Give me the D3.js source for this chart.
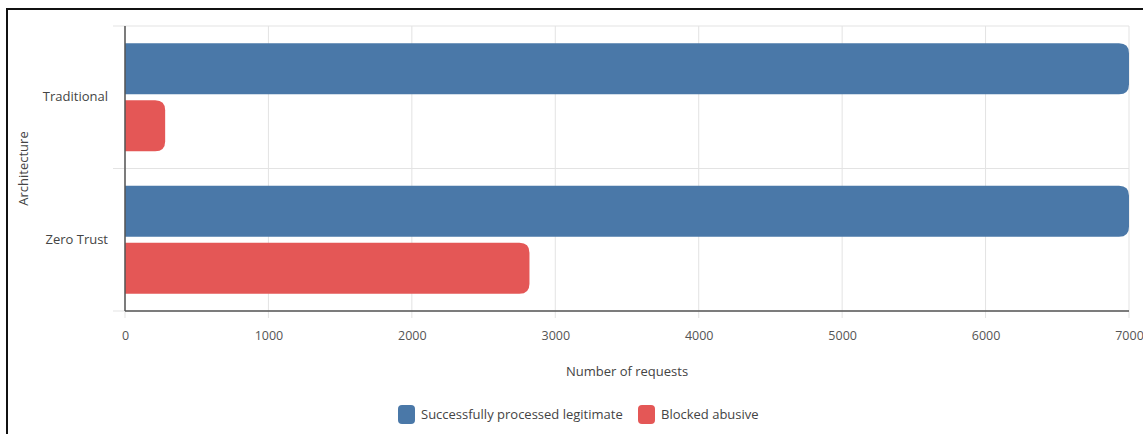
<!DOCTYPE html>
<html><head><meta charset="utf-8">
<script src="https://cdn.jsdelivr.net/npm/d3@7"></script>
<style>
html,body{margin:0;padding:0;background:#fff;}
svg{display:block;font-family:"Open Sans","Noto Sans",sans-serif;}
</style></head>
<body>
<svg id="chart" width="1143" height="434"></svg>
<script>
const categories = ["Traditional", "Zero Trust"];
const seriesNames = ["Successfully processed legitimate", "Blocked abusive"];
const legitimate = [7000, 7000];
const blocked = [280, 2820];
const xTicks = [0, 1000, 2000, 3000, 4000, 5000, 6000, 7000];
const colors = ["#4a78a8", "#e45756"];
const xTitle = "Number of requests";
const yTitle = "Architecture";

(function () {
const svg = d3.select("#chart");
// outer frame
svg.append("rect").attr("x", 7).attr("y", 9).attr("width", 1150).attr("height", 440)
  .attr("fill", "none").attr("stroke", "#111").attr("stroke-width", 2);

const pL = 125, pR = 1129, pT = 26, pB = 311;
const x = d3.scaleLinear().domain([0, 7000]).range([pL, pR]);
const y0 = d3.scaleBand().domain(categories).range([pT, pB]).paddingInner(0).paddingOuter(0);
const y1 = d3.scaleBand().domain([0, 1]).range([0, y0.bandwidth()]).paddingInner(0.105).paddingOuter(0.3);

// grid lines
const g = svg.append("g");
g.selectAll(".vg").data(xTicks).join("line")
  .attr("x1", d => x(d)).attr("x2", d => x(d)).attr("y1", pT).attr("y2", pB + 7)
  .attr("stroke", "#e3e3e3").attr("stroke-width", 1);
const yEdges = [pT, pT + y0.bandwidth(), pB];
g.selectAll(".hg").data(yEdges).join("line")
  .attr("x1", pL - 12).attr("x2", pR).attr("y1", d => d).attr("y2", d => d)
  .attr("stroke", "#e3e3e3").attr("stroke-width", 1);

// bars with rounded right end
function barPath(x0, x1, yTop, h, r) {
  r = Math.min(r, (x1 - x0), h / 2);
  return `M${x0},${yTop}H${x1 - r}Q${x1},${yTop} ${x1},${yTop + r}V${yTop + h - r}Q${x1},${yTop + h} ${x1 - r},${yTop + h}H${x0}Z`;
}
const data = categories.map((c, i) => ({ c, vals: [legitimate[i], blocked[i]] }));
const bars = svg.append("g");
data.forEach(d => {
  d.vals.forEach((v, j) => {
    const yy = y0(d.c) + y1(j);
    bars.append("path")
      .attr("d", barPath(x(0), x(v), yy, y1.bandwidth(), 10))
      .attr("fill", colors[j]);
  });
});

// axes lines
svg.append("line").attr("x1", pL).attr("x2", pL).attr("y1", pT).attr("y2", pB)
  .attr("stroke", "#555").attr("stroke-width", 1.5);
svg.append("line").attr("x1", pL).attr("x2", pR).attr("y1", pB).attr("y2", pB)
  .attr("stroke", "#555").attr("stroke-width", 1.5);

// x tick labels
const xAxis = d3.axisBottom(x).tickValues(xTicks).tickSize(0).tickPadding(0).tickFormat(d3.format("d"));
const xa = svg.append("g").attr("transform", `translate(0,${pB + 20})`).call(xAxis);
xa.select(".domain").remove();
xa.selectAll("text").attr("font-size", 12.5).attr("fill", "#555").attr("font-family", "'Open Sans',sans-serif");

// y tick labels
const yAxis = d3.axisLeft(y0).tickSize(0).tickPadding(0);
const ya = svg.append("g").attr("transform", `translate(${pL - 17},0)`).call(yAxis);
ya.select(".domain").remove();
ya.selectAll("text").attr("font-size", 13).attr("fill", "#444").attr("font-family", "'Open Sans',sans-serif");

// titles
svg.append("text").attr("x", (pL + pR) / 2).attr("y", 376).attr("text-anchor", "middle")
  .attr("font-size", 13).attr("fill", "#444").text(xTitle);
svg.append("text").attr("transform", `translate(28,${(pT + pB) / 2}) rotate(-90)`)
  .attr("text-anchor", "middle").attr("font-size", 13).attr("fill", "#444").text(yTitle);

// legend
const legend = svg.append("g");
const lx = [398, 638];
seriesNames.forEach((s, i) => {
  legend.append("rect").attr("x", lx[i]).attr("y", 405).attr("width", 17).attr("height", 19)
    .attr("rx", 4).attr("fill", colors[i]);
  legend.append("text").attr("x", lx[i] + 23).attr("y", 419)
    .attr("font-size", 13).attr("fill", "#444").text(s);
});
})();
</script>
</body></html>
